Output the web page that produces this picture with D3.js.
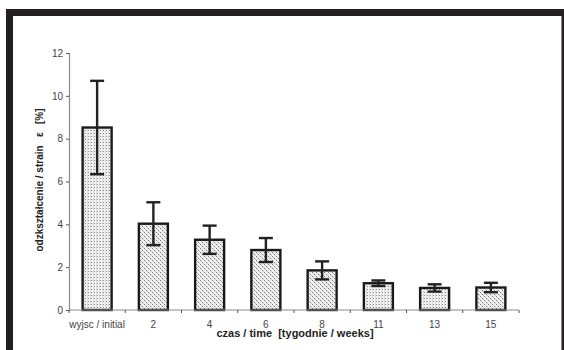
<!DOCTYPE html>
<html><head><meta charset="utf-8">
<script src="https://cdn.jsdelivr.net/npm/d3@7/dist/d3.min.js"></script>
<style>body{margin:0;background:#fff}svg{display:block}text{font-family:"Liberation Sans",Arial,sans-serif}</style>
</head><body><svg id="c" width="564" height="350"></svg>
<script>
const categories = ["wyjsc / initial","2","4","6","8","11","13","15"];
const values = [8.52, 4.03, 3.28, 2.80, 1.85, 1.25, 1.03, 1.05];
const errors = [2.18, 1.0, 0.66, 0.56, 0.42, 0.13, 0.17, 0.22];
const patterns = ["A","B","B","B","B","A","A","B"];
const yTicks = [0,2,4,6,8,10,12];
const yTitle = "odzkształcenie / strain   ε   [%]";
const xTitle = "czas / time  [tygodnie / weeks]";

const svg = d3.select("#c");
// frame
svg.append("rect").attr("x",6).attr("y",9).attr("width",558).attr("height",7).attr("fill","#231f20");
svg.append("rect").attr("x",6).attr("y",9).attr("width",7).attr("height",341).attr("fill","#231f20");
svg.append("rect").attr("x",561.5).attr("y",9).attr("width",2.5).attr("height",341).attr("fill","#231f20");

const defs = svg.append("defs");
const pA = defs.append("pattern").attr("id","pA").attr("patternUnits","userSpaceOnUse").attr("width",3).attr("height",3);
pA.append("rect").attr("width",3).attr("height",3).attr("fill","#f4f4f4");
pA.append("rect").attr("x",0).attr("width",1).attr("height",3).attr("fill","#dcdcdc");
pA.append("rect").attr("x",1).attr("y",1).attr("width",1).attr("height",1).attr("fill","#8a8a8a");
const pB = defs.append("pattern").attr("id","pB").attr("patternUnits","userSpaceOnUse").attr("width",4).attr("height",4);
pB.append("rect").attr("width",4).attr("height",4).attr("fill","#efefef");
pB.append("rect").attr("x",0).attr("y",0).attr("width",1).attr("height",1).attr("fill","#7a7a7a");
pB.append("rect").attr("x",2).attr("y",2).attr("width",1).attr("height",1).attr("fill","#7a7a7a");
pB.append("rect").attr("x",1).attr("y",1).attr("width",1).attr("height",1).attr("fill","#c8c8c8");
pB.append("rect").attr("x",3).attr("y",3).attr("width",1).attr("height",1).attr("fill","#c8c8c8");

const x = d3.scaleBand().domain(categories).range([69,519]).paddingInner(0).paddingOuter(0);
const y = d3.scaleLinear().domain([0,12]).range([310,53]);

// y axis
const ya = svg.append("g").attr("transform","translate(69,0)")
  .call(d3.axisLeft(y).tickValues(yTicks).tickSize(3).tickPadding(3));
ya.select(".domain").attr("stroke","#8c8c8c").attr("stroke-width",1.2);
ya.selectAll(".tick line").attr("stroke","#555");
ya.selectAll("text").attr("font-size",10).attr("fill","#444").attr("font-family","Liberation Sans, Arial, sans-serif");

// bars
const bw = 29;
const g = svg.append("g");
g.selectAll("rect.bar").data(values).join("rect").attr("class","bar")
  .attr("x",(d,i)=>x(categories[i])+x.bandwidth()/2-bw/2)
  .attr("y",d=>y(d)).attr("width",bw).attr("height",d=>y(0)-y(d))
  .attr("fill",(d,i)=>"url(#p"+patterns[i]+")")
  .attr("stroke","#1a1a1a").attr("stroke-width",2.4);

// x axis
const xa = svg.append("g").attr("transform","translate(0,310)");
xa.append("line").attr("x1",69).attr("x2",519).attr("stroke","#8c8c8c").attr("stroke-width",1.2);
const bounds = categories.map(c=>x(c)).concat([x(categories[categories.length-1])+x.bandwidth()]);
xa.selectAll("line.t").data(bounds).join("line").attr("class","t")
  .attr("x1",d=>d).attr("x2",d=>d).attr("y1",0).attr("y2",3).attr("stroke","#555");
xa.selectAll("text").data(categories).join("text")
  .attr("x",d=>x(d)+x.bandwidth()/2).attr("y",18).attr("text-anchor","middle")
  .attr("font-size",10).attr("fill","#444").text(d=>d);

// error bars
const cap = 7;
const eb = svg.append("g").attr("stroke","#222").attr("stroke-width",2.4);
values.forEach((v,i)=>{
  const cx = x(categories[i])+x.bandwidth()/2;
  eb.append("line").attr("x1",cx).attr("x2",cx).attr("y1",y(v+errors[i])).attr("y2",y(v-errors[i]));
  eb.append("line").attr("x1",cx-cap).attr("x2",cx+cap).attr("y1",y(v+errors[i])).attr("y2",y(v+errors[i]));
  eb.append("line").attr("x1",cx-cap).attr("x2",cx+cap).attr("y1",y(v-errors[i])).attr("y2",y(v-errors[i]));
});

// titles
svg.append("text").attr("x",295).attr("y",337).attr("text-anchor","middle")
  .attr("font-size",11).attr("font-weight","bold").attr("fill","#222").attr("xml:space","preserve").style("white-space","pre").text(xTitle);
svg.append("text").attr("transform","translate(43,180) rotate(-90)").attr("text-anchor","middle")
  .attr("font-size",10).attr("font-weight","bold").attr("fill","#222").style("white-space","pre").text(yTitle);
</script></body></html>
